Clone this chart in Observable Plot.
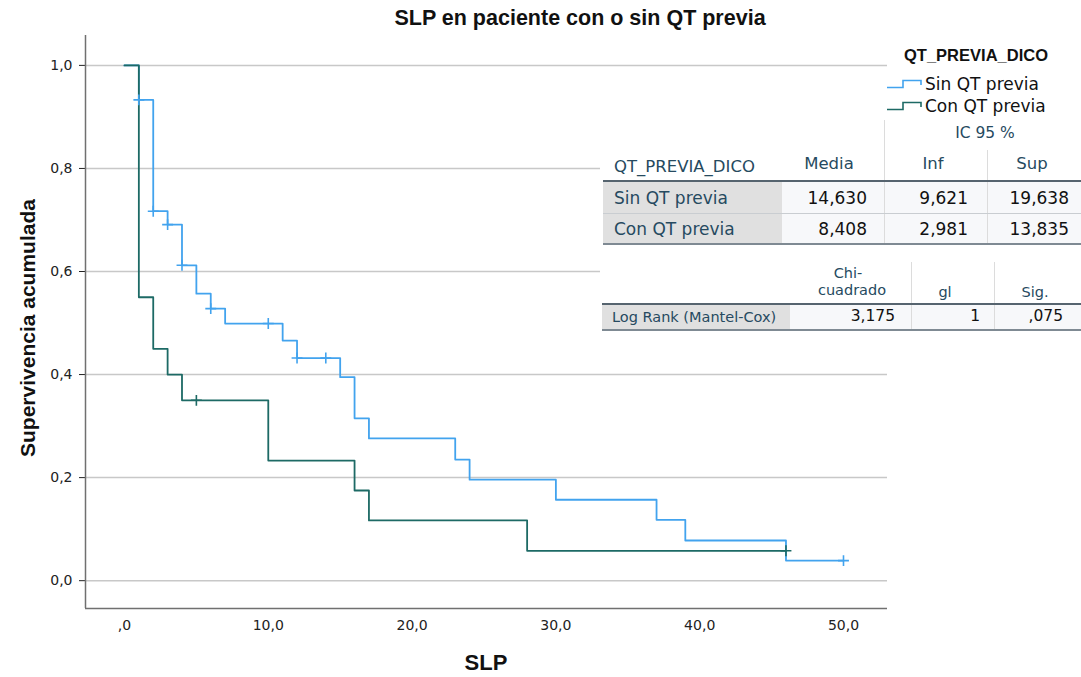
<!DOCTYPE html>
<html><head><meta charset="utf-8">
<script src="https://cdn.jsdelivr.net/npm/d3@7"></script>
<script src="https://cdn.jsdelivr.net/npm/@observablehq/plot@0.6"></script>
<style>
body{margin:0;background:#fff;}
#wrap{position:relative;width:1081px;height:677px;overflow:hidden;font-family:"DejaVu Sans",sans-serif;}
#chart{position:absolute;left:0;top:0;}
.t{position:absolute;white-space:nowrap;line-height:1;}
.box{position:absolute;}
</style></head><body><div id="wrap"><div id="chart"></div></div>
<script>
// ---- data ----
const groups = ["Sin QT previa", "Con QT previa"];
const colors = ["#42a3ee", "#1d6a65"];
const sinTime = [0, 1, 2, 3, 4, 5, 6, 7, 11, 12, 15, 16, 17, 23, 24, 30, 37, 39, 46, 50];
const sinSurv = [1, 0.933, 0.717, 0.691, 0.612, 0.557, 0.528, 0.499, 0.466, 0.432, 0.395, 0.315, 0.276, 0.235, 0.196, 0.157, 0.118, 0.078, 0.039, 0.039];
const sinCensTime = [1, 2, 3, 4, 6, 10, 12, 14, 50];
const sinCensSurv = [0.933, 0.717, 0.691, 0.612, 0.528, 0.499, 0.432, 0.432, 0.039];
const conTime = [0, 1, 2, 3, 4, 10, 16, 17, 28, 46];
const conSurv = [1, 0.55, 0.45, 0.40, 0.35, 0.233, 0.175, 0.117, 0.058, 0.058];
const conCensTime = [5, 46];
const conCensSurv = [0.35, 0.058];
const yTicks = [0, 0.2, 0.4, 0.6, 0.8, 1.0];
const xTicks = [0, 10, 20, 30, 40, 50];
const media = [14.630, 8.408];
const inf95 = [9.621, 2.981];
const sup95 = [19.638, 13.835];
const testName = "Log Rank (Mantel-Cox)";
const chiSq = 3.175, gl = 1, sig = 0.075;

// ---- helpers ----
const dec = (v, n) => v.toFixed(n).replace(".", ",");
const fmtX = d => d === 0 ? ",0" : dec(d, 1);
const fmtY = d => dec(d, 1);
const xDom = [-2.71, 53.06], yDom = [-0.054, 1.058];

const sinData = sinTime.map((t, i) => ({t, s: sinSurv[i]}));
const conData = conTime.map((t, i) => ({t, s: conSurv[i]}));
const sinCens = sinCensTime.map((t, i) => ({t, s: sinCensSurv[i]}));
const conCens = conCensTime.map((t, i) => ({t, s: conCensSurv[i]}));

const plot = Plot.plot({
  width: 1081, height: 677,
  marginLeft: 85, marginRight: 194, marginTop: 35, marginBottom: 69,
  x: {domain: xDom}, y: {domain: yDom},
  style: {fontFamily: "DejaVu Sans, sans-serif", fontSize: "14px", color: "#222", background: "transparent"},
  marks: [
    Plot.ruleY(yTicks, {stroke: "#c8c8c8", strokeWidth: 1.5}),
    Plot.axisY(yTicks, {tickSize: 6, tickPadding: 7, tickFormat: fmtY, label: null, fontSize: 14}),
    Plot.axisX(xTicks, {tickSize: 0, tickPadding: 12, tickFormat: fmtX, label: null, fontSize: 14}),
    Plot.ruleX([xDom[0]], {stroke: "#707070", strokeWidth: 1.5}),
    Plot.ruleY([yDom[0]], {stroke: "#707070", strokeWidth: 1.5}),
    Plot.line(sinData, {x: "t", y: "s", curve: "step-after", stroke: colors[0], strokeWidth: 1.8}),
    Plot.line(conData, {x: "t", y: "s", curve: "step-after", stroke: colors[1], strokeWidth: 1.8}),
    Plot.dot(sinCens, {x: "t", y: "s", symbol: "plus", r: 3.6, stroke: colors[0], strokeWidth: 1.6}),
    Plot.dot(conCens, {x: "t", y: "s", symbol: "plus", r: 3.6, stroke: colors[1], strokeWidth: 1.6})
  ]
});
document.getElementById("chart").appendChild(plot);

const wrap = document.getElementById("wrap");
function txt(s, x, y, align, css) {
  const d = document.createElement("div");
  d.className = "t";
  d.textContent = s;
  const tx = align === "center" ? "-50%" : align === "right" ? "-100%" : "0";
  d.style.cssText = `left:${x}px;top:${y}px;transform:translate(${tx},-50%);` + (css || "");
  wrap.appendChild(d);
  return d;
}
function box(x, y, w, h, bg) {
  const d = document.createElement("div");
  d.className = "box";
  d.style.cssText = `left:${x}px;top:${y}px;width:${w}px;height:${h}px;background:${bg};`;
  wrap.appendChild(d);
  return d;
}
const boldF = "font-family:'Liberation Sans',Arial,sans-serif;font-weight:bold;color:#111;";
// title and axis labels
txt("SLP en paciente con o sin QT previa", 580, 19, "center", boldF + "font-size:21.5px;");
const yl = txt("Supervivencia acumulada", 27, 312, "center", boldF + "font-size:21px;");
yl.style.left = "27px"; yl.style.top = "328px";
yl.style.transformOrigin = "0 0";
yl.style.transform = "rotate(-90deg) translate(-50%,-50%)";
txt("SLP", 486, 663, "center", boldF + "font-size:22px;");

// legend
txt("QT_PREVIA_DICO", 976, 55, "center", boldF + "font-size:16.5px;");
groups.forEach((g, i) => {
  const y = 84 + i * 22;
  const s = document.createElementNS("http://www.w3.org/2000/svg", "svg");
  s.setAttribute("width", 38); s.setAttribute("height", 12);
  s.style.cssText = `position:absolute;left:886px;top:${y - 6}px;`;
  s.innerHTML = `<path d="M1,9.5H17V2.5H35V7" fill="none" stroke="${colors[i]}" stroke-width="1.6"/>`;
  wrap.appendChild(s);
  txt(g, 925, y, "left", "font-size:17px;color:#111;");
});

// table 1
const hc = "color:#264a60;";
box(600, 118, 481, 128, "#fff");
box(603, 182, 179, 31, "#e0e0e0");
box(782, 182, 299, 31, "#f7f8fa");
box(603, 214, 179, 30, "#e0e0e0");
box(782, 214, 299, 30, "#f7f8fa");
box(884, 120, 1, 124, "#dcdcdc");
box(987, 150, 1, 94, "#dcdcdc");
box(603, 180, 478, 2, "#56646f");
box(603, 213, 478, 1, "#c9cdd1");
box(603, 243, 478, 2, "#7f8a93");
txt("IC 95 %", 985, 134, "center", hc + "font-size:15.5px;");
txt("QT_PREVIA_DICO", 614, 167, "left", hc + "font-size:16.5px;");
txt("Media", 829, 164, "center", hc + "font-size:16.5px;");
txt("Inf", 933, 164, "center", hc + "font-size:16.5px;");
txt("Sup", 1032, 164, "center", hc + "font-size:16.5px;");
groups.forEach((g, i) => {
  const y = 198 + i * 31;
  txt(g, 614, y, "left", hc + "font-size:17px;");
  txt(dec(media[i], 3), 867, y, "right", "font-size:17px;color:#111;");
  txt(dec(inf95[i], 3), 968, y, "right", "font-size:17px;color:#111;");
  txt(dec(sup95[i], 3), 1069, y, "right", "font-size:17px;color:#111;");
});

// table 2
box(600, 255, 481, 78, "#fff");
box(602, 305, 188, 24, "#e0e0e0");
box(790, 305, 291, 24, "#f7f8fa");
box(911, 262, 1, 67, "#dcdcdc");
box(994, 262, 1, 67, "#dcdcdc");
box(602, 303, 479, 2, "#56646f");
box(602, 329, 479, 2, "#7f8a93");
txt("Chi-", 848, 273, "center", hc + "font-size:14.5px;");
txt("cuadrado", 852, 290, "center", hc + "font-size:14.5px;");
txt("gl", 945, 292, "center", hc + "font-size:14.5px;");
txt("Sig.", 1035, 292, "center", hc + "font-size:14.5px;");
txt(testName, 612, 317, "left", hc + "font-size:14.5px;");
txt(dec(chiSq, 3), 895, 317, "right", "font-size:15.5px;color:#111;");
txt(String(gl), 980, 317, "right", "font-size:15.5px;color:#111;");
txt(dec(sig, 3).replace(/^0/, ""), 1063, 317, "right", "font-size:15.5px;color:#111;");
</script></body></html>
